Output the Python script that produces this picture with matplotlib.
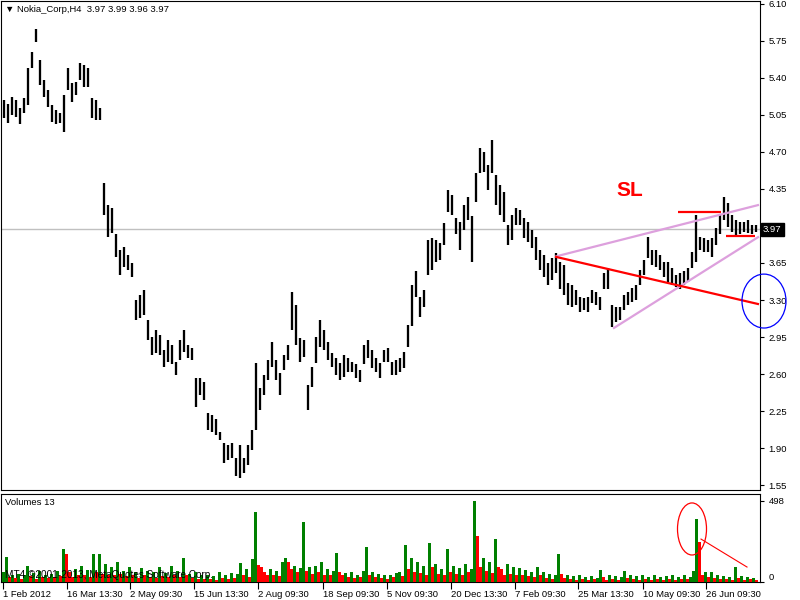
import matplotlib
matplotlib.use("Agg")
import matplotlib.pyplot as plt
from matplotlib.patches import Ellipse
import matplotlib.transforms as mtransforms
import numpy as np

# ---------------- data ----------------
title = "\u25bc Nokia_Corp,H4  3.97 3.99 3.96 3.97"
last_price = 3.97

# 4-bar groups of H4 bars: high / low prices
highs = [
    5.19, 5.15, 5.22, 5.19, 5.12, 5.21, 5.49, 5.65, 5.86, 5.57,
    5.38, 5.29, 5.14, 5.10, 5.07, 5.24, 5.49, 5.35, 5.36, 5.54,
    5.52, 5.49, 5.21, 5.19, 5.12, 4.41, 4.20, 4.17, 3.92, 3.77,
    3.80, 3.73, 3.65, 3.30, 3.35, 3.39, 3.11, 2.95, 3.02, 2.97,
    2.83, 2.92, 2.87, 2.71, 2.92, 3.02, 2.87, 2.85, 2.56, 2.56,
    2.52, 2.23, 2.21, 2.17, 2.05, 1.95, 1.93, 1.95, 1.81, 1.93,
    1.81, 1.93, 2.07, 2.70, 2.47, 2.59, 2.73, 2.90, 2.73, 2.61,
    2.78, 2.87, 3.38, 3.25, 2.94, 2.92, 2.50, 2.67, 2.95, 3.11,
    3.02, 2.90, 2.80, 2.75, 2.70, 2.78, 2.75, 2.71, 2.69, 2.64,
    2.87, 2.92, 2.83, 2.75, 2.70, 2.83, 2.85, 2.71, 2.73, 2.75,
    2.81, 3.06, 3.44, 3.57, 3.33, 3.39, 3.87, 3.89, 3.87, 3.84,
    4.03, 4.34, 4.29, 4.08, 4.04, 4.20, 4.27, 4.09, 4.50, 4.74,
    4.70, 4.58, 4.81, 4.48, 4.39, 4.32, 4.01, 4.10, 4.17, 4.15,
    4.08, 4.04, 3.96, 3.90, 3.77, 3.73, 3.65, 3.70, 3.74, 3.66,
    3.63, 3.46, 3.44, 3.39, 3.33, 3.32, 3.33, 3.39, 3.38, 3.33,
    3.56, 3.60, 3.25, 3.23, 3.23, 3.35, 3.38, 3.41, 3.44, 3.58,
    3.68, 3.90, 3.77, 3.77, 3.73, 3.66, 3.66, 3.60, 3.54, 3.56,
    3.57, 3.60, 3.75, 4.10, 3.90, 3.89, 3.87, 3.89, 3.98, 4.10,
    4.27, 4.22, 4.10, 4.06, 4.04, 4.04, 4.06, 4.01, 4.01,
]
lows = [
    5.02, 4.97, 5.05, 5.03, 4.96, 5.07, 5.14, 5.49, 5.74, 5.33,
    5.22, 5.13, 4.98, 4.96, 4.97, 4.89, 5.29, 5.17, 5.24, 5.38,
    5.31, 5.31, 5.02, 5.00, 5.00, 4.10, 3.90, 3.93, 3.71, 3.54,
    3.61, 3.58, 3.52, 3.11, 3.13, 3.16, 2.92, 2.78, 2.80, 2.78,
    2.67, 2.71, 2.69, 2.59, 2.73, 2.81, 2.75, 2.73, 2.29, 2.40,
    2.35, 2.07, 2.05, 2.02, 1.98, 1.76, 1.79, 1.81, 1.64, 1.62,
    1.66, 1.74, 1.88, 2.07, 2.26, 2.40, 2.54, 2.67, 2.54, 2.40,
    2.64, 2.73, 3.02, 2.87, 2.71, 2.76, 2.26, 2.48, 2.70, 2.86,
    2.83, 2.73, 2.67, 2.59, 2.54, 2.57, 2.62, 2.62, 2.56, 2.52,
    2.69, 2.75, 2.66, 2.62, 2.56, 2.71, 2.71, 2.59, 2.59, 2.62,
    2.66, 2.86, 3.05, 3.33, 3.14, 3.23, 3.54, 3.58, 3.66, 3.68,
    3.82, 4.13, 4.10, 3.92, 3.77, 3.96, 4.06, 3.66, 4.23, 4.50,
    4.51, 4.34, 4.50, 4.20, 4.10, 4.04, 3.82, 3.87, 4.01, 4.01,
    3.89, 3.85, 3.79, 3.68, 3.58, 3.52, 3.44, 3.49, 3.56, 3.40,
    3.35, 3.25, 3.23, 3.25, 3.19, 3.21, 3.19, 3.27, 3.25, 3.21,
    3.40, 3.40, 3.04, 3.09, 3.11, 3.21, 3.25, 3.28, 3.30, 3.44,
    3.54, 3.70, 3.63, 3.61, 3.58, 3.52, 3.47, 3.44, 3.42, 3.40,
    3.44, 3.47, 3.60, 3.66, 3.77, 3.75, 3.75, 3.71, 3.82, 3.92,
    4.06, 3.99, 3.94, 3.90, 3.92, 3.94, 3.93, 3.92, 3.94,
]

# volumes, one value per 3 bars
volumes = [
    60, 154, 30, 45, 25, 50, 20, 40, 98, 35,
    55, 20, 65, 30, 40, 22, 50, 28, 70, 35,
    203, 172, 60, 30, 80, 45, 100, 40, 75, 30,
    172, 60, 172, 50, 110, 40, 90, 45, 120, 50,
    70, 35, 95, 40, 60, 25, 85, 40, 70, 30,
    60, 25, 90, 35, 55, 30, 100, 40, 65, 30,
    148, 45, 50, 25, 60, 20, 40, 18, 45, 20,
    35, 15, 60, 25, 40, 20, 55, 25, 50, 115,
    40, 80, 30, 140, 430, 105, 90, 60, 45, 80,
    40, 70, 35, 120, 148, 120, 80, 100, 60, 85,
    369, 70, 90, 50, 100, 60, 120, 45, 80, 40,
    70, 178, 60, 40, 55, 30, 60, 25, 45, 30,
    70, 215, 40, 60, 30, 50, 25, 45, 20, 40,
    30, 55, 60, 35, 228, 80, 150, 60, 125, 55,
    100, 45, 240, 90, 110, 50, 80, 40, 203, 60,
    100, 50, 85, 45, 110, 60, 80, 498, 283, 90,
    148, 70, 120, 55, 265, 90, 80, 45, 110, 50,
    90, 40, 85, 45, 75, 35, 60, 30, 95, 40,
    60, 25, 50, 20, 40, 172, 50, 25, 45, 20,
    35, 15, 40, 18, 30, 15, 35, 20, 25, 74,
    30, 15, 40, 20, 35, 15, 30, 70, 25, 45,
    20, 35, 15, 45, 20, 30, 15, 40, 20, 30,
    15, 35, 20, 40, 15, 30, 20, 45, 20, 30,
    70, 387, 246, 40, 60, 30, 62, 25, 40, 20,
    35, 18, 30, 15, 92, 25, 35, 15, 30, 20,
    25, 15,
]

price_ticks = [6.10, 5.75, 5.40, 5.05, 4.70, 4.35, 3.97, 3.65, 3.30, 2.95,
               2.60, 2.25, 1.90, 1.55]
price_tick_labels = ["6.10", "5.75", "5.40", "5.05", "4.70", "4.35", "", "3.65",
                     "3.30", "2.95", "2.60", "2.25", "1.90", "1.55"]
vol_ticks = [498, 0]
date_ticks = [3, 67, 130, 194, 258, 323, 387, 451, 515, 578, 643, 706]
date_labels = ["1 Feb 2012", "16 Mar 13:30", "2 May 09:30", "15 Jun 13:30",
               "2 Aug 09:30", "18 Sep 09:30", "5 Nov 09:30", "20 Dec 13:30",
               "7 Feb 09:30", "25 Mar 13:30", "10 May 09:30", "26 Jun 09:30"]

# drawn objects (bar index, price)
trend_red_x, trend_red_y = [555, 759], [3.71, 3.26]
chan_up_x, chan_up_y = [555, 759], [3.71, 4.20]
chan_lo_x, chan_lo_y = [613, 759], [3.03, 3.90]
sl_up_x, sl_up_y = [678, 721], [4.13, 4.13]
sl_lo_x, sl_lo_y = [726, 755], [3.905, 3.905]
sl_text_pos = (630, 4.34)
blue_ellipse = (764, 3.29, 44, 0.51)
vol_ellipse = (692, 326, 29, 320)
vol_arrow_x, vol_arrow_y = [701, 747], [264, 92]

# ---------------- figure ----------------
FONT = ['Liberation Sans', 'DejaVu Sans']
plt.rcParams['font.family'] = FONT
FS = 6.8
W, H = 800, 600
fig = plt.figure(figsize=(8, 6), dpi=100)
fig.patch.set_facecolor('white')


def rect(l, t, r, b):
    return [l / W, 1 - b / H, (r - l) / W, (b - t) / H]


ax = fig.add_axes(rect(1, 1, 760, 490))
axv = fig.add_axes(rect(1, 494, 760, 582))

for a in (ax, axv):
    a.set_xlim(1, 760)
    for s in a.spines.values():
        s.set_linewidth(0.8)
        s.set_color('black')
    a.yaxis.tick_right()
    a.tick_params(axis='y', direction='out', length=3, width=0.8,
                  labelsize=FS, pad=3, colors='black')

ax.set_ylim(1.503, 6.128)
ax.set_xticks([])
ax.set_yticks(price_ticks)
ax.set_yticklabels(price_tick_labels)

# price bars
xs = 3.5 + 4 * np.arange(len(highs))
ax.vlines(xs, lows, highs, colors='black', linewidth=1.65, antialiased=True,
          zorder=3)

# bid line and price label
ax.axhline(last_price, color='#c0c0c0', linewidth=1.0, zorder=1)
trans = mtransforms.blended_transform_factory(ax.transAxes, ax.transData)
ax.text(1.004, last_price, f"{last_price:.2f}", transform=trans, color='white',
        fontsize=FS, va='center', ha='left', clip_on=False,
        bbox=dict(facecolor='black', edgecolor='black', pad=1.5))

# trend objects
ax.plot(chan_up_x, chan_up_y, color='#dda0dd', linewidth=1.6, zorder=4,
        solid_capstyle='butt')
ax.plot(chan_lo_x, chan_lo_y, color='#dda0dd', linewidth=1.6, zorder=4,
        solid_capstyle='butt')
ax.plot(trend_red_x, trend_red_y, color='red', linewidth=1.6, zorder=5,
        solid_capstyle='butt')
ax.plot(sl_up_x, sl_up_y, color='red', linewidth=1.6, zorder=5,
        solid_capstyle='butt')
ax.plot(sl_lo_x, sl_lo_y, color='red', linewidth=1.6, zorder=5,
        solid_capstyle='butt')
ax.text(sl_text_pos[0], sl_text_pos[1], "SL", color='red', fontsize=15,
        fontweight='bold', ha='center', va='center')
ax.add_patch(Ellipse(blue_ellipse[:2], blue_ellipse[2], blue_ellipse[3],
                     fill=False, edgecolor='blue', linewidth=0.9,
                     clip_on=False, zorder=6))

fig.text(5 / W, 1 - 10 / H, title, fontsize=FS, va='center', ha='left')

# volumes
vx = 3 + 3 * np.arange(len(volumes))
vcolors = ['#008000' if i == 0 or v >= volumes[i - 1] else '#ff0000'
           for i, v in enumerate(volumes)]
axv.vlines(vx, 0, volumes, colors=vcolors, linewidth=0.75, antialiased=False,
           zorder=3)
axv.set_ylim(0, 541)
axv.set_yticks(vol_ticks)
axv.set_yticklabels([str(v) for v in vol_ticks])
for lbl in axv.get_yticklabels():
    if lbl.get_text() == "0":
        lbl.set_va('bottom')
axv.set_xticks(date_ticks)
axv.set_xticklabels(date_labels)
axv.tick_params(axis='x', direction='out', length=5, width=0.8,
                labelsize=FS, pad=1)
for lbl in axv.get_xticklabels():
    lbl.set_ha('left')

axv.text(4 / 759, 0.898, "Volumes 13", transform=axv.transAxes,
         fontsize=FS, va='center', ha='left')
axv.text(4 / 759, 0.08, "MT4 \u00a92001-2013, MetaQuotes Software Corp.",
         transform=axv.transAxes, fontsize=FS + 0.4, va='center', ha='left',
         zorder=4)
axv.add_patch(Ellipse(vol_ellipse[:2], vol_ellipse[2], vol_ellipse[3],
                      fill=False, edgecolor='red', linewidth=0.9, zorder=6))
axv.plot(vol_arrow_x, vol_arrow_y, color='red', linewidth=0.8, zorder=6)

fig.savefig("out.png", dpi=100)
